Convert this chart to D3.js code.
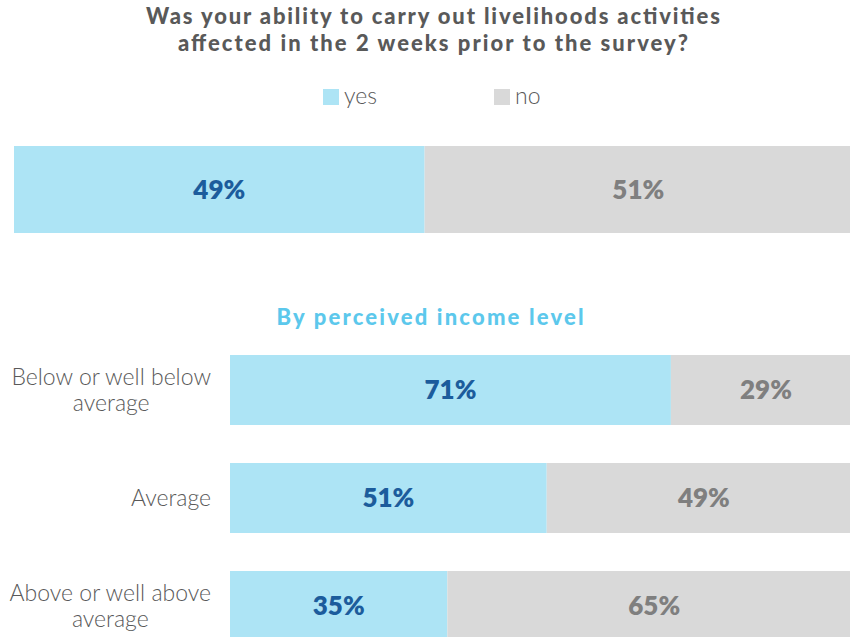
<!DOCTYPE html>
<html>
<head>
<meta charset="utf-8">
<script src="https://cdn.jsdelivr.net/npm/d3@7"></script>
<style>
  html, body { margin: 0; padding: 0; background: #fff; }
  svg { display: block; }
</style>
</head>
<body>
<svg id="chart" width="850" height="637"></svg>
<script>
// Survey answers: share of respondents (%)
const answers = ["yes", "no"];
const overallValues = [49, 51];
const incomeGroups = ["Below or well below|average", "Average", "Above or well above|average"];
const yesValues = [71, 51, 35];
const noValues = [29, 49, 65];

const titleLines = ["Was your ability to carry out livelihoods activities", "affected in the 2 weeks prior to the survey?"];
const subtitle = "By perceived income level";

const fillColor = d3.scaleOrdinal().domain(answers).range(["#ade4f5", "#d9d9d9"]);
const textColor = d3.scaleOrdinal().domain(answers).range(["#1c5c9c", "#7f7f7f"]);

const svg = d3.select("#chart");
const font = "Lato, 'Open Sans', sans-serif";

// Title (two centred lines, stretched to the heading's measure)
const titleWidths = [574, 510];
svg.append("g").selectAll("text").data(titleLines).join("text")
  .attr("x", 433).attr("y", (d, i) => 24 + i * 27)
  .attr("text-anchor", "middle")
  .attr("font-family", font).attr("font-weight", 900).attr("font-size", 22)
  .attr("fill", "#595959")
  .attr("textLength", (d, i) => titleWidths[i]).attr("lengthAdjust", "spacing")
  .text(d => d);

// Legend
const legendX = d3.scaleOrdinal().domain(answers).range([323, 494]);
const legend = svg.append("g").selectAll("g").data(answers).join("g")
  .attr("transform", d => `translate(${legendX(d)},89)`);
legend.append("rect").attr("width", 16).attr("height", 16).attr("fill", d => fillColor(d));
legend.append("text").attr("x", 21).attr("y", 15)
  .attr("font-family", font).attr("font-weight", 300).attr("font-size", 23)
  .attr("fill", "#595959").text(d => d);

// Stacking helper
function stackRow(values) {
  let acc = 0;
  return values.map((v, i) => { const s = { key: answers[i], x0: acc, x1: acc + v, v }; acc += v; return s; });
}

// Overall bar
const xTop = d3.scaleLinear().domain([0, 100]).range([14, 852]);
const topG = svg.append("g").attr("transform", "translate(0,146)");
const topSegs = stackRow(overallValues);
topG.selectAll("rect").data(topSegs).join("rect")
  .attr("x", d => xTop(d.x0)).attr("width", d => xTop(d.x1) - xTop(d.x0))
  .attr("y", 0).attr("height", 87)
  .attr("fill", d => fillColor(d.key));
topG.selectAll("text").data(topSegs).join("text")
  .attr("x", d => (xTop(d.x0) + xTop(d.x1)) / 2).attr("y", 43.5)
  .attr("dy", "0.36em").attr("text-anchor", "middle")
  .attr("font-family", font).attr("font-weight", 800).attr("font-size", 26)
  .attr("fill", d => textColor(d.key)).text(d => d.v + "%");

// Subtitle
svg.append("text").attr("x", 430).attr("y", 325).attr("text-anchor", "middle")
  .attr("font-family", font).attr("font-weight", 900).attr("font-size", 22)
  .attr("fill", "#5cc8ec")
  .attr("textLength", 307).attr("lengthAdjust", "spacing")
  .text(subtitle);

// Stacked bars by income level
const x = d3.scaleLinear().domain([0, 100]).range([230, 851]);
const y = d3.scaleBand().domain(incomeGroups).range([355, 641]).paddingInner(0.352).paddingOuter(0);

const rows = svg.append("g").selectAll("g").data(incomeGroups).join("g")
  .attr("transform", d => `translate(0,${y(d)})`);

const labelRight = 211;

rows.each(function(g, i) {
  const segs = stackRow([yesValues[i], noValues[i]]);
  const row = d3.select(this);
  row.selectAll("rect").data(segs).join("rect")
    .attr("x", d => x(d.x0)).attr("width", d => x(d.x1) - x(d.x0))
    .attr("y", 0).attr("height", y.bandwidth())
    .attr("fill", d => fillColor(d.key));
  row.selectAll("text.val").data(segs).join("text").attr("class", "val")
    .attr("x", d => (x(d.x0) + x(d.x1)) / 2 + (d.key === "no" ? 5 : 0)).attr("y", y.bandwidth() / 2)
    .attr("dy", "0.36em").attr("text-anchor", "middle")
    .attr("font-family", font).attr("font-weight", 800).attr("font-size", 26)
    .attr("fill", d => textColor(d.key)).text(d => d.v + "%");

  // Category label: a centred block of lines, right-aligned against the bars
  const lines = g.split("|");
  const cat = row.append("text").attr("class", "cat")
    .attr("text-anchor", "middle")
    .attr("font-family", font).attr("font-weight", 300).attr("font-size", 23)
    .attr("fill", "#595959");
  const spans = cat.selectAll("tspan").data(lines).join("tspan")
      .attr("y", (d, j) => y.bandwidth() / 2 + (j - (lines.length - 1) / 2) * 26)
      .attr("dy", "0.35em")
      .text(d => d);
  const widest = d3.max(spans.nodes(), n => n.getComputedTextLength());
  spans.attr("x", labelRight - widest / 2);
});
</script>
</body>
</html>
